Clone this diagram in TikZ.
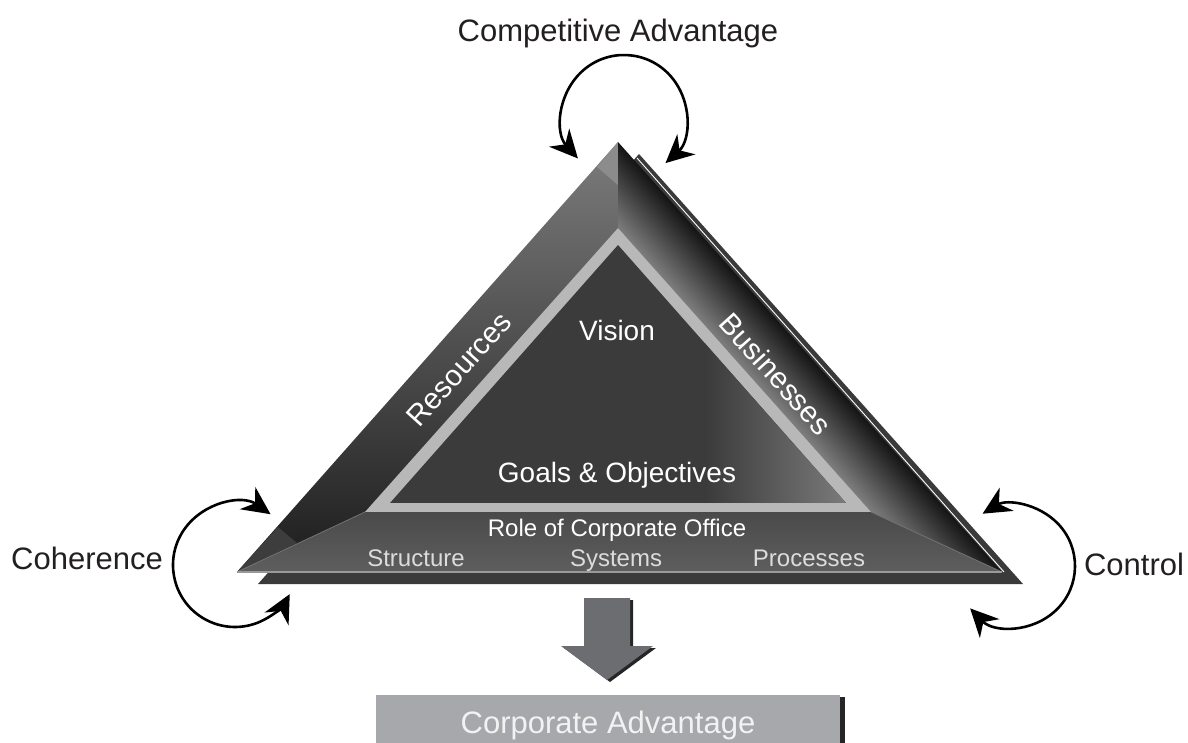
\documentclass[tikz,border=0pt]{standalone}
\usepackage{fontspec}
\setmainfont{Liberation Sans}
\usepackage{xcolor}
\usetikzlibrary{arrows.meta, calc, positioning}

\definecolor{labelblack}{HTML}{231F20}
\definecolor{shadowgray}{HTML}{3A3A3A}
\definecolor{lefttop}{HTML}{7C7C7C}
\definecolor{leftbot}{HTML}{1C1C1C}
\definecolor{rightin}{HTML}{858585}
\definecolor{rightout}{HTML}{141414}
\definecolor{basetop}{HTML}{4A4A4A}
\definecolor{basebot}{HTML}{5E5E5E}
\definecolor{rimgray}{HTML}{B8B8B8}
\definecolor{coregray}{HTML}{3B3B3B}
\definecolor{corelight}{HTML}{7A7A7A}
\definecolor{arrowgray}{HTML}{6C6D71}
\definecolor{boxgray}{HTML}{A7A8AB}
\definecolor{subgray}{HTML}{DCDCDC}

\begin{document}
\begin{tikzpicture}[x=1pt, y=1pt,
    loopy/.style={line width=2.6pt, {Stealth[length=28pt,width=27pt,inset=9pt]}-{Stealth[length=28pt,width=27pt,inset=9pt]}},
    outer/.style={text=labelblack, font=\fontsize{31}{36}\selectfont, anchor=base, inner sep=0pt},
    side/.style={text=white, font=\fontsize{29.5}{34}\selectfont, inner sep=0pt},
    core/.style={text=white, font=\fontsize{28}{33}\selectfont, anchor=base, inner sep=0pt},
    office/.style={text=white, font=\fontsize{24}{28}\selectfont, anchor=base, inner sep=0pt},
    part/.style={text=subgray, font=\fontsize{24}{28}\selectfont, anchor=base, inner sep=0pt},
    cabox/.style={fill=boxgray, text=white!95!black, font=\fontsize{31}{36}\selectfont, anchor=base,
                  minimum width=464pt, text height=38pt, text depth=22pt, inner sep=0pt}]

\useasboundingbox (0,0) rectangle (1188,742);

% corners of the pyramid
\coordinate (A) at (618,600);
\coordinate (L) at (237,170);
\coordinate (R) at (1002,170);
\coordinate (ia) at (618,514);
\coordinate (il) at (365,230);
\coordinate (ir) at (871,230);
\coordinate (ja) at (618,497);
\coordinate (jl) at (390,239);
\coordinate (jr) at (846,239);

% shadow
\fill[shadowgray] ($(A)+(21,-12)$) -- ($(L)+(21,-12)$) -- ($(R)+(21,-12)$) -- cycle;
\draw[white, line width=0.9pt] ($(A)+(19,-16)$) -- ($(R)+(2,0)$);

% faces
\shade[top color=lefttop, bottom color=leftbot] (A) -- (L) -- (il) -- (ia) -- cycle;
\fill[black!45] (A) -- (597,575) -- (618,557) -- cycle;
\fill[black!76] (L) -- (278,215) -- (297,199) -- cycle;
\begin{scope}
\clip (A) -- (R) -- (ir) -- (ia) -- cycle;
\shade[transform canvas={rotate around={-48.2:(A)}}, top color=rightout, bottom color=rightin]
    ($(A)+(-60,-62)$) rectangle ($(A)+(660,0)$);
\end{scope}
\shade[top color=basetop, bottom color=basebot] (L) -- (R) -- (ir) -- (il) -- cycle;
\draw[black!55, line width=0.8pt] (L) -- (il) (R) -- (ir);
\draw[black!40, line width=1.6pt] (L) -- (R);

% inner triangle
\fill[rimgray] (ia) -- (il) -- (ir) -- cycle;
\fill[coregray] (ja) -- (jl) -- (jr) -- cycle;
\begin{scope}
\clip (ja) -- (jl) -- (jr) -- cycle;
\shade[left color=coregray, right color=corelight] (705,239) rectangle (846,420);
\end{scope}

% texts on the pyramid
\node[core] (vision) at (617,401) {Vision};
\node[core] (goals) at (617,259) {Goals \& Objectives};
\node[side, rotate=48] (res) at (459,373) {Resources};
\node[side, rotate=-48] (bus) at (776,368) {Businesses};
\node[office] (role) at (617,205) {Role of Corporate Office};
\node[part] (struct) at (416,176) {Structure};
\node[part] (sys) at (616,176) {Systems};
\node[part] (proc) at (809,176) {Processes};

% outer labels and loops
\node[outer] (compadv) at (618,700) {Competitive Advantage};
\node[outer] (cohere) at (87,173) {Coherence};
\node[outer] (ctrl) at (1134,167) {Control};

\coordinate (loopT) at (624,625);
\coordinate (loopL) at (235,177);
\coordinate (loopR) at (1014,176);
\draw[loopy] ($(loopT)+(-48:62pt)$) arc[start angle=-48, end angle=222, radius=62pt];
\draw[loopy] ($(loopL)+(55:62pt)$) arc[start angle=55, end angle=332, radius=62pt];
\draw[loopy] ($(loopR)+(-136:61pt)$) arc[start angle=-136, end angle=121, radius=61pt];

% down arrow
\fill[black!85] (587,142) -- (633,142) -- (633,94) -- (656,94) -- (610,60) -- (564,94) -- (587,94) -- cycle;
\fill[arrowgray] (584,144) -- (630,144) -- (630,96) -- (653,96) -- (607,62) -- (561,96) -- (584,96) -- cycle;

% result box
\node[cabox] (corpadv) at (608,9) {Corporate Advantage};
\fill[black!85] ($(corpadv.north east)+(0,-2)$) rectangle ($(corpadv.south east)+(5,0)$);

\end{tikzpicture}
\end{document}
